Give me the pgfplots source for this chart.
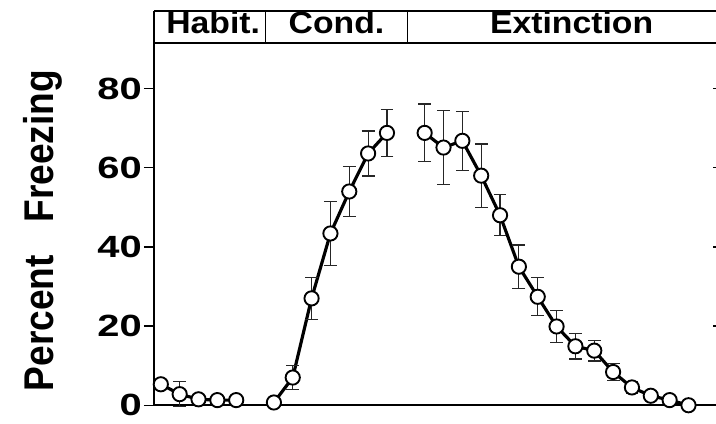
\documentclass[border=0pt]{standalone}
\usepackage{fontspec}
\setmainfont{Liberation Sans}
\newfontfamily\tck{Liberation Sans}[FakeStretch=1.3]
\newfontfamily\hdr{Liberation Sans}[FakeStretch=1.1]
\usepackage{graphicx}
\usepackage{pgfplots}
\usepackage{pgfplotstable}
\pgfplotsset{compat=1.18}

% session index, percent freezing, error
\pgfplotstableread{
x y e
0 5.3 1.0
1 2.8 3.1
2 1.5 1.0
3 1.3 1.0
4 1.3 1.0
}\habit
\pgfplotstableread{
x y e
6 0.7 0.5
7 7.0 3.0
8 27.0 5.3
9 43.4 8.0
10 54.0 6.3
11 63.6 5.7
12 68.8 6.0
}\cond
\pgfplotstableread{
x y e
14 68.8 7.3
15 65.1 9.3
16 66.8 7.5
17 58.0 8.0
18 48.0 5.2
19 35.0 5.5
20 27.4 4.8
21 19.9 4.0
22 14.9 3.2
23 13.8 2.6
24 8.4 2.1
25 4.5 1.5
26 2.4 1.0
27 1.3 1.0
28 0.0 0.5
}\ext

\pgfplotsset{
  phase/.style={
    black, line width=3.2bp, mark=*, mark size=7.2bp,
    mark options={fill=white, draw=black, line width=1.9bp, solid},
    error bars/.cd, y dir=both, y explicit,
    error bar style={line width=1.2bp, black!85},
    error mark options={rotate=90, mark size=6.5bp, line width=1.2bp, black!85},
  },
}

\begin{document}
\begin{tikzpicture}
\useasboundingbox (-155.5bp,-18bp) rectangle (568bp,409.5bp);
\begin{axis}[
  scale only axis,
  width=568bp, height=366bp,
  xmin=-0.368, xmax=29.46,
  ymin=0, ymax=91.5,
  axis x line*=bottom, axis y line*=left,
  axis line style={line width=2bp},
  xtick=\empty,
  ytick={0,20,40,60,80},
  tick align=outside,
  major tick length=10bp,
  tick style={line width=1.5bp, black},
  yticklabel style={font=\tck\fontsize{31bp}{32bp}\bfseries\selectfont, inner sep=0pt, xshift=-2bp},
  /pgf/number format/assume math mode=true,
  clip=false,
]
\addplot[phase] table[x=x, y=y, y error=e] {\habit};
\addplot[phase] table[x=x, y=y, y error=e] {\cond};
\addplot[phase] table[x=x, y=y, y error=e] {\ext};

% phase header
\draw[line width=2bp] (axis cs:-0.368,91.5) -- (axis cs:29.46,91.5);
\draw[line width=2bp] (axis cs:-0.368,99.6) -- (axis cs:29.46,99.6);
\draw[line width=2bp] (axis cs:-0.368,91.5) -- (axis cs:-0.368,99.6);
\draw[line width=1.3bp] (axis cs:5.57,91.5) -- (axis cs:5.57,99.6);
\draw[line width=1.3bp] (axis cs:13.08,91.5) -- (axis cs:13.08,99.6);
\node[anchor=base, inner sep=0pt, font=\hdr\fontsize{31bp}{32bp}\bfseries\selectfont] at (axis cs:2.78,93.8) {Habit.};
\node[anchor=base, inner sep=0pt, font=\hdr\fontsize{31bp}{32bp}\bfseries\selectfont] at (axis cs:9.32,93.8) {Cond.};
\node[anchor=base, inner sep=0pt, font=\hdr\fontsize{31bp}{32bp}\bfseries\selectfont] at (axis cs:21.8,93.8) {Extinction};

% y label
\node[rotate=90, anchor=base, inner sep=0pt, font=\fontsize{37.5bp}{40bp}\bfseries\selectfont] at (axis cs:-5.67,44.1) {\scalebox{1}[1.12]{Percent\hspace{33bp}Freezing}};
\end{axis}

\begin{axis}[
  scale only axis,
  width=568bp, height=366bp,
  xmin=-0.368, xmax=29.46,
  ymin=0, ymax=91.5,
  hide x axis,
  axis y line*=right,
  y axis line style={draw=none},
  ytick={20,40,60,80},
  yticklabels={},
  tick align=inside,
  major tick length=3bp,
  tick style={line width=1.5bp, black},
]
\addplot[draw=none] coordinates {(0,0)};
\end{axis}
\end{tikzpicture}
\end{document}
